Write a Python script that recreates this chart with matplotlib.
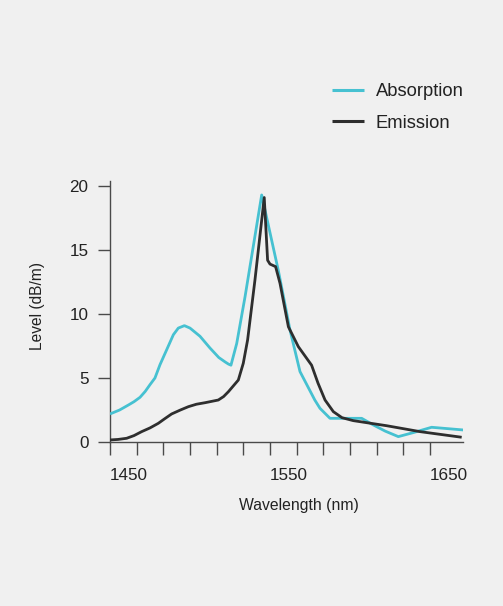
import matplotlib
matplotlib.use("Agg")
import matplotlib.pyplot as plt
import numpy as np

plt.rcParams['font.family'] = ['Liberation Sans', 'DejaVu Sans']

# Data
abs_wl = [1450, 1456, 1461.5, 1465, 1468.75, 1472, 1475, 1478.1, 1481.25, 1485.4, 1489.6,
          1492.7, 1496.5, 1500, 1506.25, 1512.5, 1518, 1522, 1524, 1525.6, 1529.2, 1534.4,
          1544.8, 1555.2, 1562.5, 1568.75, 1578, 1581.25, 1587.5, 1607.3, 1614.6, 1622,
          1630.2, 1640, 1651, 1670.8]
abs_level = [2.19, 2.5, 2.89, 3.15, 3.49, 3.95, 4.48, 5.0, 6.04, 7.2, 8.38,
             8.9, 9.09, 8.9, 8.26, 7.34, 6.6, 6.25, 6.09, 6.0, 7.7, 11.35,
             19.3, 13.4, 8.75, 5.5, 3.28, 2.63, 1.85, 1.85, 1.33, 0.85,
             0.42, 0.75, 1.15, 0.94]

em_wl = [1450, 1455, 1460.4, 1465, 1469.8, 1475, 1480.2, 1484, 1488.5, 1494, 1499, 1504,
         1509.4, 1517.7, 1521, 1524, 1530.2, 1533.3, 1536, 1540.6, 1546.4,
         1548.5, 1550, 1553.5, 1556.25, 1561.5, 1567.7, 1572, 1576, 1580, 1584.4,
         1589.6, 1595, 1602, 1623, 1643.75, 1669.8]
em_level = [0.16, 0.2, 0.29, 0.5, 0.81, 1.1, 1.46, 1.8, 2.19, 2.5, 2.76, 2.95,
            3.07, 3.28, 3.55, 3.93, 4.84, 6.15, 7.97, 12.66, 19.1,
            14.2, 13.9, 13.7, 12.4, 9.0, 7.45, 6.7, 6.0, 4.6, 3.28,
            2.37, 1.9, 1.67, 1.27, 0.81, 0.37]

series_names = ["Absorption", "Emission"]
x_tick_labels = ["1450", "1550", "1650"]
y_ticks = [0, 5, 10, 15, 20]

BG = "#f0f0f0"
CYAN = "#46c1d1"
DARK = "#2e2e2e"
AXIS = "#4a4a4a"
TXT = "#222222"

W, H = 503, 606
fig = plt.figure(figsize=(W / 100, H / 100), dpi=100, facecolor=BG)
left, right, bottom, top = 110, 463.3, 442, 180.7
ax = fig.add_axes([left / W, 1 - bottom / H, (right - left) / W, (bottom - top) / H])
ax.set_facecolor(BG)

ax.plot(abs_wl, abs_level, color=CYAN, lw=2.0, solid_joinstyle='round',
        solid_capstyle='butt', label=series_names[0], zorder=3)
ax.plot(em_wl, em_level, color=DARK, lw=2.0, solid_joinstyle='round',
        solid_capstyle='butt', label=series_names[1], zorder=4)

ax.set_xlim(1450, 1450 + (right - left) / 1.6)
ax.set_ylim(0, (bottom - top) / 12.8)

for s in ['top', 'right']:
    ax.spines[s].set_visible(False)
for s in ['left', 'bottom']:
    ax.spines[s].set_color(AXIS)
    ax.spines[s].set_linewidth(1.0)

xt = [1450 + k * 100 / 6 for k in range(13)]
labels = []
for k in range(13):
    if k % 6 == 0:
        labels.append(x_tick_labels[k // 6])
    else:
        labels.append("")
ax.set_xticks(xt)
ax.set_xticklabels(labels)
for t in ax.get_xticklabels():
    t.set_horizontalalignment('left')
ax.set_yticks(y_ticks)
ax.set_yticklabels([str(v) for v in y_ticks])

ax.tick_params(axis='both', direction='out', length=9, width=1.0, color=AXIS,
               labelsize=12.3, labelcolor=TXT)
ax.tick_params(axis='x', pad=10)
ax.tick_params(axis='y', pad=6.5)

ax.set_xlabel("Wavelength (nm)", fontsize=11.3, color=TXT)
ax.xaxis.set_label_coords((299.3 - left) / (right - left), (bottom - 498) / (bottom - top))
ax.xaxis.label.set_va('top')
ax.set_ylabel("Level (dB/m)", fontsize=11.2, color=TXT)
ax.yaxis.set_label_coords((37.5 - left) / (right - left), (bottom - 306) / (bottom - top))
ax.yaxis.label.set_va('center')

leg = ax.legend(loc='upper left', bbox_to_anchor=(331.7 / W, 1 - 83 / H),
                bbox_transform=fig.transFigure, frameon=False, fontsize=13.2,
                handlelength=1.74, handletextpad=0.67, labelspacing=0.81,
                borderaxespad=0, borderpad=0)
for t in leg.get_texts():
    t.set_color(TXT)
for h in leg.legend_handles:
    h.set_linewidth(2.2)

fig.savefig("out.png", dpi=100, facecolor=BG)
